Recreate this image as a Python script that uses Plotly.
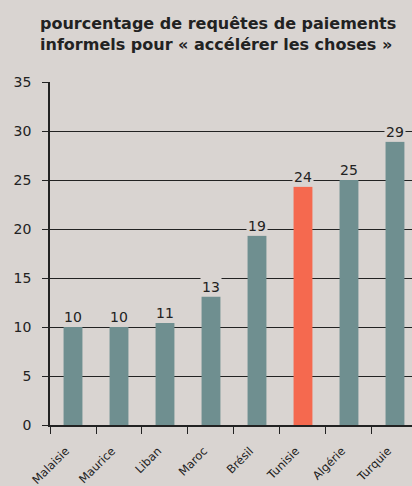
import plotly.graph_objects as go

# data
pays = ["Malaisie", "Maurice", "Liban", "Maroc", "Brésil", "Tunisie", "Algérie", "Turquie"]
pourcentages = [10.0, 10.0, 10.4, 13.1, 19.3, 24.3, 25.0, 28.9]
etiquettes = ["10", "10", "11", "13", "19", "24", "25", "29"]

fond = "#d9d4d1"
gris_bleu = "#6f8f90"
rouge = "#f5694f"
couleurs = [rouge if p == "Tunisie" else gris_bleu for p in pays]

fig = go.Figure(go.Bar(
    x=pays,
    y=pourcentages,
    marker_color=couleurs,
    marker_line_width=0,
    width=0.41,
    hoverinfo="x+y",
))

# value labels with a background patch that breaks the grid lines
for p, v, t in zip(pays, pourcentages, etiquettes):
    fig.add_annotation(x=p, y=v, text=t, showarrow=False,
                       yanchor="bottom", yshift=0, bgcolor=fond, borderpad=1,
                       font=dict(family="DejaVu Sans", size=14, color="#222222"))

# two-line title as an annotation (multi-line layout titles drift upward)
fig.add_annotation(text="<b>pourcentage de requêtes de paiements<br>informels pour « accélérer les choses »</b>",
                   xref="paper", yref="paper", x=0.464, y=1, xanchor="center", yanchor="bottom",
                   yshift=26, showarrow=False, align="left",
                   font=dict(family="DejaVu Sans", size=16, color="#222222"))

fig.update_layout(
    width=412, height=486,
    margin=dict(l=50, r=0, t=82, b=61),
    paper_bgcolor=fond, plot_bgcolor=fond,
    font=dict(family="DejaVu Sans", color="#222222"),
    showlegend=False,
)
fig.update_xaxes(range=[-0.5, 7.37], tickson="boundaries", ticks="outside", ticklen=7,
                 tickcolor="#222222", showline=True, linecolor="#222222", linewidth=1.5,
                 tickangle=-45, tickfont=dict(size=11.5), showgrid=False, automargin=False,
                 ticklabelstandoff=13, ticklabelshift=-7)
fig.update_yaxes(range=[0, 35], dtick=5, ticks="outside", ticklen=6, tickcolor="#222222",
                 showline=True, linecolor="#222222", linewidth=1.5, showgrid=True,
                 gridcolor="#222222", gridwidth=1, zeroline=False, tickfont=dict(size=14),
                 automargin=False, ticklabelstandoff=8)

# the page's default body margin would shift the figure by 8px
fig.write_html("out.html", config={"displayModeBar": False},
               post_script="document.body.style.margin='0';")
